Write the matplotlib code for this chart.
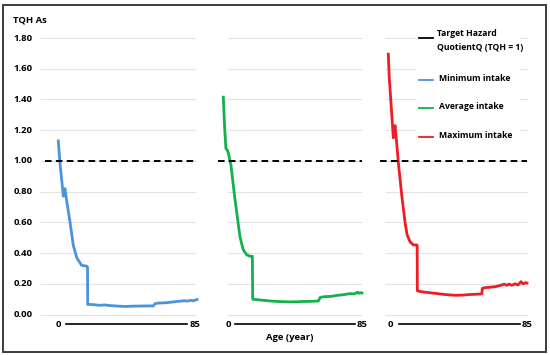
import matplotlib
matplotlib.use('Agg')
import matplotlib.pyplot as plt
from matplotlib.patches import Rectangle
from matplotlib.lines import Line2D

plt.rcParams['font.family'] = ['Open Sans', 'DejaVu Sans']
plt.rcParams['font.weight'] = 'bold'

# values (age in years, TQH)
min_age = [0, 0.9, 3.1, 4.1, 4.7, 7.2, 9.2, 11.3, 14.3, 17.4, 17.9, 18.0, 18.4, 22, 25, 28.6, 32, 36,
           40.9, 45, 50, 55, 58.2, 59.2, 61, 65, 69, 72, 75, 77, 79, 81, 83, 84, 85]
min_val = [1.13, 1.0, 0.77, 0.82, 0.77, 0.60, 0.45, 0.37, 0.32, 0.315, 0.31, 0.065, 0.066, 0.064, 0.06,
           0.062, 0.058, 0.055, 0.052, 0.054, 0.055, 0.056, 0.056, 0.07, 0.074, 0.076, 0.08, 0.084,
           0.087, 0.09, 0.087, 0.092, 0.089, 0.095, 0.097]

avg_age = [0, 0.8, 1.6, 2.5, 3.1, 4.7, 7.2, 10.2, 11.5, 12.3, 14.4, 17.1, 17.8, 18.0, 18.4, 22, 25,
           28.6, 33, 40.9, 45, 50, 55, 58.2, 59.5, 62, 66, 70, 73, 76, 78, 80, 81.5, 82.3, 83, 84, 85]
avg_val = [1.415, 1.22, 1.08, 1.07, 1.05, 0.97, 0.746, 0.507, 0.45, 0.42, 0.388, 0.377, 0.38, 0.1,
           0.099, 0.095, 0.092, 0.088, 0.085, 0.082, 0.083, 0.085, 0.086, 0.088, 0.112, 0.116, 0.118,
           0.125, 0.128, 0.133, 0.136, 0.134, 0.14, 0.146, 0.138, 0.142, 0.14]

max_age = [0, 0.6, 3.1, 4.1, 4.7, 6.1, 8.2, 10.2, 11.5, 13.3, 15.3, 17.4, 17.7, 17.8, 18.4, 22, 25,
           28.6, 33, 37, 40.9, 45, 50, 54, 57.3, 57.6, 59.3, 63, 66, 69.5, 71, 72.6, 74, 75.7, 77.7,
           79.5, 81.3, 82, 82.8, 84, 85]
max_val = [1.695, 1.54, 1.15, 1.23, 1.17, 0.995, 0.78, 0.605, 0.52, 0.474, 0.453, 0.453, 0.45, 0.155,
           0.152, 0.146, 0.142, 0.138, 0.132, 0.128, 0.125, 0.126, 0.13, 0.132, 0.134, 0.17, 0.175,
           0.178, 0.182, 0.192, 0.198, 0.19, 0.198, 0.19, 0.2, 0.192, 0.214, 0.205, 0.2, 0.207, 0.205]

y_ticks = [0.0, 0.2, 0.4, 0.6, 0.8, 1.0, 1.2, 1.4, 1.6, 1.8]
target = 1.0

legend_labels = ['Target Hazard\nQuotientQ (TQH = 1)', 'Minimum intake', 'Average intake', 'Maximum intake']
colors = ['#4a94dc', '#14b04c', '#ee1c25']

W, H = 550, 355
PPA = 1.632        # pixels per year
Y0, PPU = 314.5, 153.6   # pixel of y=0, pixels per unit
YLIM = (-0.12, 1.85)

def fx(x):
    return x / W

def fy(y):
    return 1 - y / H

fig = plt.figure(figsize=(W / 100, H / 100), dpi=100)

# (age-0 pixel, left xlim, grid span, dash span, age-axis positions)
panels = [
    (58.3, -11.2, (-11.2, 84.4), (-8.1, 84.4), (0, 4.7, 78.9, 84)),
    (223.3, -3.3, (2.1, 85), (-3.2, 85), (3.1, 7.2, 80.8, 85)),
    (388.3, -5.1, (-2, 85.6), (-5.1, 85), (1.5, 6.8, 81, 85)),
]
series = [(min_age, min_val), (avg_age, avg_val), (max_age, max_val)]

FS = 6.8

axes = []
for i, (x0, lo, grid, dash, xax) in enumerate(panels):
    hi = 85.6
    left = x0 + lo * PPA
    width = (hi - lo) * PPA
    top = Y0 - YLIM[1] * PPU
    bottom = Y0 - YLIM[0] * PPU
    ax = fig.add_axes([fx(left), fy(bottom), width / W, (bottom - top) / H])
    ax.set_xlim(lo, hi)
    ax.set_ylim(*YLIM)
    ax.axis('off')
    ax.hlines(y_ticks, grid[0], grid[1], color='#e4e4e4', lw=0.8, zorder=1)
    ax.plot([dash[0], dash[1]], [target, target], color='black', lw=1.4, dashes=(3.4, 2.2), zorder=3)
    ages, vals = series[i]
    ax.plot(ages, vals, color=colors[i], lw=2.0, zorder=2, clip_on=False, solid_joinstyle='round')
    # age axis drawn as a bar between the end labels
    ax.text(xax[0], -0.062, '0', ha='center', va='center', fontsize=FS, fontweight='bold')
    ax.text(xax[3], -0.062, '85', ha='center', va='center', fontsize=FS, fontweight='bold', clip_on=False)
    ax.plot([xax[1], xax[2]], [-0.062, -0.062], color='black', lw=1.2, clip_on=False)
    axes.append(ax)

ax1 = axes[0]
for v in y_ticks:
    ax1.text(-15.6, v, '%.2f' % v, ha='right', va='center', fontsize=FS, fontweight='bold')

fig.text(fx(13), fy(20), 'TQH As', ha='left', va='center', fontsize=FS, fontweight='bold')
fig.text(fx(290), fy(337), 'Age (year)', ha='center', va='center', fontsize=FS, fontweight='bold')

# legend box
fig.add_artist(Rectangle((fx(416), fy(150)), 104 / W, 125 / H, transform=fig.transFigure,
                         facecolor='white', edgecolor='none', zorder=5))
leg_y = [38, 80, 108, 137]
leg_c = ['black'] + colors
for lab, yy, c in zip(legend_labels, leg_y, leg_c):
    fig.add_artist(Line2D([fx(419), fx(433)], [fy(yy), fy(yy)], transform=fig.transFigure,
                          color=c, lw=1.3, zorder=6))
    if '\n' in lab:
        fig.text(fx(437), fy(yy - 9), lab, ha='left', va='top', fontsize=6.2, fontweight='bold',
                 linespacing=1.75, zorder=7)
    else:
        fig.text(fx(439), fy(yy - 1.5), lab, ha='left', va='center', fontsize=6.2, fontweight='bold', zorder=7)

# outer frame
fig.add_artist(Rectangle((fx(3), fy(352)), 543 / W, 347 / H, transform=fig.transFigure,
                         fill=False, edgecolor='#3c3c3c', lw=1.4, zorder=10))

fig.savefig('out.png', dpi=100)
